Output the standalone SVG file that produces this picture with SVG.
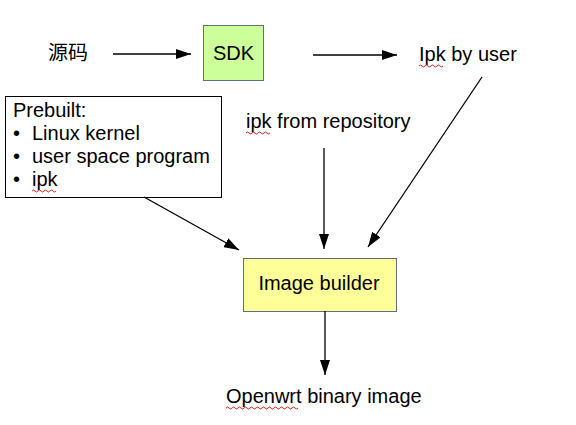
<svg xmlns="http://www.w3.org/2000/svg" width="576" height="425" viewBox="0 0 576 425">
<defs>
<style>
text{font-family:"Liberation Sans",Arial,"Noto Sans CJK SC",sans-serif;font-size:20px;fill:#000}
.c{text-anchor:middle}
.box{stroke:#5f6f7f;stroke-width:1}
.edge{stroke:#000;stroke-width:1.3;fill:none;marker-end:url(#ah)}
.wave{stroke:#d02020;stroke-width:1;fill:none}
</style>
<marker id="ah" viewBox="0 0 15 10" refX="15" refY="5" markerWidth="15" markerHeight="10" markerUnits="userSpaceOnUse" orient="auto">
<path d="M0,0 L15,5 L0,10 z" fill="#000"/>
</marker>
</defs>
<rect width="576" height="425" fill="#fff"/>
<g id="src"><text x="48" y="60">源码</text></g>
<g id="sdk"><rect class="box" x="203.5" y="25.5" width="60" height="55" fill="#ccff99"/><text class="c" x="233.5" y="60">SDK</text></g>
<g id="ipkuser"><text x="419" y="61">Ipk by user</text><path class="wave" d="M419,66 q1.5,-2 3,0 t3,0 t3,0 t3,0 t3,0 t3,0 t3,0 t3,0"/></g>
<g id="prebuilt"><rect x="5.5" y="96.5" width="216" height="101" fill="#fff" stroke="#000"/>
<text x="13" y="117">Prebuilt:</text>
<text x="13" y="140">•</text><text x="32" y="140">Linux kernel</text>
<text x="13" y="163">•</text><text x="32" y="163">user space program</text>
<text x="13" y="186">•</text><text x="32" y="186">ipk</text><path class="wave" d="M32,191 q1.5,-2 3,0 t3,0 t3,0 t3,0 t3,0 t3,0 t3,0 t3,0"/></g>
<g id="ipkrepo"><text x="246" y="128">ipk from repository</text><path class="wave" d="M246,133 q1.5,-2 3,0 t3,0 t3,0 t3,0 t3,0 t3,0 t3,0 t3,0"/></g>
<g id="builder"><rect class="box" x="243.5" y="258.5" width="153" height="53" fill="#ffff99"/><text class="c" x="319" y="290">Image builder</text></g>
<g id="output"><text x="226" y="403">Openwrt binary image</text><path class="wave" d="M226,408 q1.5,-2 3,0 t3,0 t3,0 t3,0 t3,0 t3,0 t3,0 t3,0 t3,0 t3,0 t3,0 t3,0 t3,0 t3,0 t3,0 t3,0 t3,0 t3,0 t3,0 t3,0 t3,0 t3,0 t3,0 t3,0"/></g>
<g id="connectors">
<line class="edge" x1="113" y1="54" x2="191" y2="54"/>
<line class="edge" x1="313" y1="55" x2="397" y2="55"/>
<line class="edge" x1="144" y1="197" x2="239" y2="250"/>
<line class="edge" x1="324" y1="148" x2="324" y2="249"/>
<line class="edge" x1="482" y1="77" x2="368" y2="247"/>
<line class="edge" x1="325" y1="311" x2="325" y2="375"/>
</g>
</svg>
